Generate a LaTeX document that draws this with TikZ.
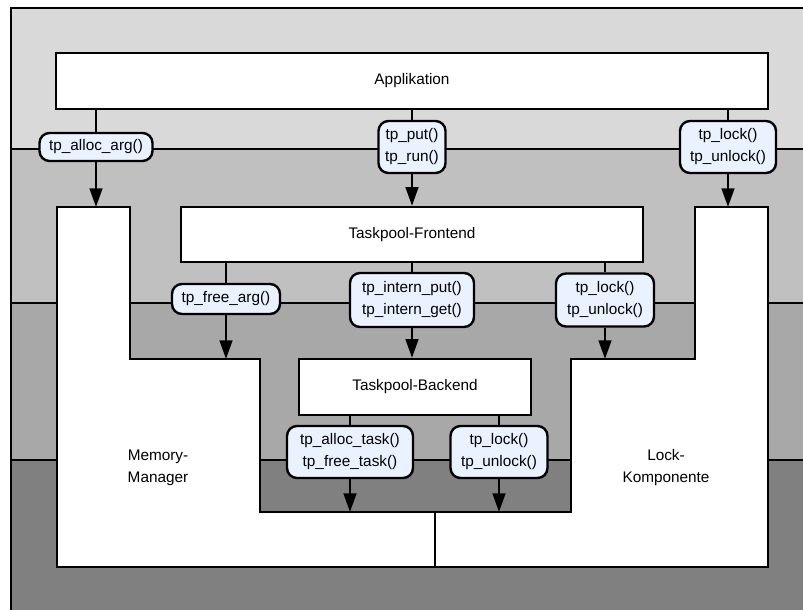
\documentclass[tikz,border=0pt]{standalone}
\usepackage{fontspec}
\setmainfont{Liberation Sans}
\usetikzlibrary{arrows.meta}
\usetikzlibrary{positioning}
\definecolor{bandA}{RGB}{217,217,217}
\definecolor{bandB}{RGB}{192,192,192}
\definecolor{bandC}{RGB}{168,168,168}
\definecolor{bandD}{RGB}{128,128,128}
\definecolor{callblue}{RGB}{234,242,255}
\tikzset{
    layer/.style={draw=black, fill=white, inner sep=0pt, minimum height=56*0.75pt},
    component/.style={draw=black, fill=white},
    call/.style={draw=black, fill=callblue, rounded corners=7.5pt, inner sep=0pt, align=center},
    flow/.style={-{Triangle[length=14pt, width=9.5pt]}},
}

\begin{document}
\begin{tikzpicture}[x=0.75pt, y=-0.75pt, line width=1.8pt, font=\fontsize{11.5pt}{16.5pt}\selectfont]
		\useasboundingbox (0,0) rectangle (803,610);
		\clip (0,0) rectangle (803,610);
		% Schichten
		\fill[bandA] (11,8) rectangle (820,149);
		\fill[bandB] (11,149) rectangle (820,303);
		\fill[bandC] (11,303) rectangle (820,460);
		\fill[bandD] (11,460) rectangle (820,630);
		\draw (11,630) -- (11,8) -- (820,8);
		\draw (11,149) -- (820,149);
		\draw (11,303) -- (820,303);
		\draw (11,460) -- (820,460);
		% Komponenten
		\draw[component] (57,207) -- (130,207) -- (130,359) -- (260,359) -- (260,512)
			-- (435,512) -- (435,567) -- (57,567) -- cycle;
		\draw[component] (695,207) -- (768,207) -- (768,567) -- (435,567) -- (435,512)
			-- (571,512) -- (571,359) -- (695,359) -- cycle;
		\coordinate (memtop) at (57,207);
		\coordinate (memstep) at (130,359);
		\coordinate (locktop) at (695,207);
		\coordinate (lockstep) at (571,359);
		\coordinate (bottom) at (435,512);
		\node[align=center] (mem) at (158,468) {Memory-\\Manager};
		\node[align=center] (lock) at (666,468) {Lock-\\Komponente};
		\node[layer, minimum width=712*0.75pt] (app) at (412,81) {Applikation};
		\node[layer, minimum width=462*0.75pt, minimum height=55*0.75pt] (front) at (412,234.5) {Taskpool-Frontend};
		\node[layer, minimum width=232*0.75pt] (back) at (415,387) {Taskpool-Backend};
		% Aufrufe
		\node[call, minimum width=113*0.75pt, minimum height=28*0.75pt] (allocarg) at (96,147) {tp\_alloc\_arg()};
		\node[call, minimum width=67*0.75pt, minimum height=52*0.75pt] (put) at (412,147) {tp\_put()\\tp\_run()};
		\node[call, minimum width=96*0.75pt, minimum height=52*0.75pt] (lockA) at (728,147) {tp\_lock()\\tp\_unlock()};
		\node[call, minimum width=108*0.75pt, minimum height=30*0.75pt] (freearg) at (226,299) {tp\_free\_arg()};
		\node[call, minimum width=124*0.75pt, minimum height=54*0.75pt] (intern) at (412,300) {tp\_intern\_put()\\tp\_intern\_get()};
		\node[call, minimum width=98*0.75pt, minimum height=53*0.75pt] (lockB) at (605,300) {tp\_lock()\\tp\_unlock()};
		\node[call, minimum width=126*0.75pt, minimum height=52*0.75pt] (alloctask) at (350,452) {tp\_alloc\_task()\\tp\_free\_task()};
		\node[call, minimum width=97*0.75pt, minimum height=52*0.75pt] (lockC) at (499,452) {tp\_lock()\\tp\_unlock()};
		% Verbindungen
		\draw (app.south -| allocarg) -- (allocarg.north);
		\draw[flow] (allocarg.south) -- (allocarg |- memtop);
		\draw (app.south -| put) -- (put.north);
		\draw[flow] (put.south) -- (front.north);
		\draw (app.south -| lockA) -- (lockA.north);
		\draw[flow] (lockA.south) -- (lockA |- locktop);
		\draw (front.south -| freearg) -- (freearg.north);
		\draw[flow] (freearg.south) -- (freearg |- memstep);
		\draw (front.south -| intern) -- (intern.north);
		\draw[flow] (intern.south) -- (intern |- back.north);
		\draw (front.south -| lockB) -- (lockB.north);
		\draw[flow] (lockB.south) -- (lockB |- lockstep);
		\draw (back.south -| alloctask) -- (alloctask.north);
		\draw[flow] (alloctask.south) -- (alloctask |- bottom);
		\draw (back.south -| lockC) -- (lockC.north);
		\draw[flow] (lockC.south) -- (lockC |- bottom);
	 \end{tikzpicture}
\end{document}
